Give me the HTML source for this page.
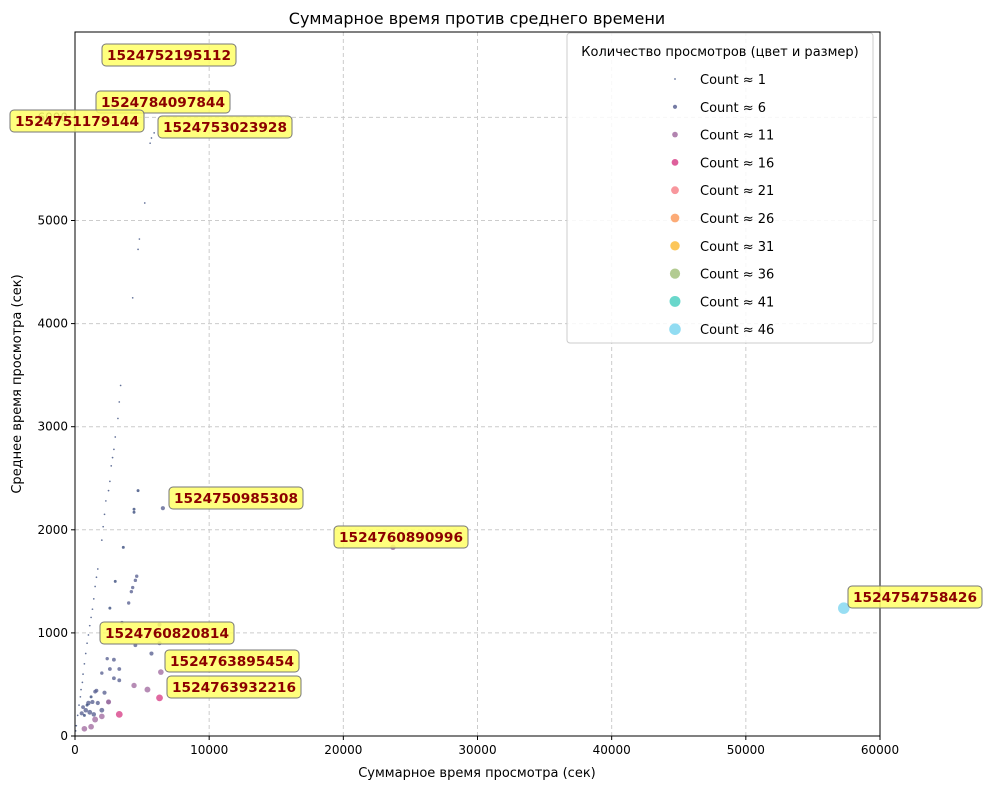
<!DOCTYPE html>
<html><head><meta charset="utf-8"><style>
body{margin:0;background:#fff;font-family:"DejaVu Sans","Liberation Sans",sans-serif;}
svg text{font-family:"DejaVu Sans","Liberation Sans",sans-serif;}
</style></head><body>
<svg id="chart" width="988" height="790" xmlns="http://www.w3.org/2000/svg">
<rect width="988" height="790" fill="#fff"/>
<text x="477" y="24" text-anchor="middle" font-size="16">Суммарное время против среднего времени</text>
<g id="grid"></g><g id="points"></g><g id="axes"></g><g id="annots"></g><g id="legend"></g>
<text x="477" y="777" text-anchor="middle" font-size="13">Суммарное время просмотра (сек)</text>
<text x="21" y="384" text-anchor="middle" font-size="13" transform="rotate(-90 21 384)">Среднее время просмотра (сек)</text>
</svg>
<script>
const totals=[6400,6100,5700,5900,5600,5200,4800,4700,4300,3400,3300,3200,3000,2900,2800,2700,2600,2500,2300,2200,2100,2000,1700,1600,1500,1400,1300,1200,1100,1000,900,800,700,600,550,450,400,300,200,100,50,
4700,4400,4400,3600,2600,3000,6550,4600,4500,4300,4200,4000,3500,4500,3200,6300,5700,6300,3300,2400,2900,2000,2600,3300,2900,1600,1500,2200,1300,1000,1700,2500,600,500,800,1100,1400,2000,1200,900,700,
6400,5400,4400,2000,1500,1200,700,2500,23700,6300,3300,57300];
const avgs=[6580,6100,5800,5850,5750,5170,4820,4720,4250,3400,3240,3080,2900,2780,2700,2620,2470,2380,2280,2150,2030,1900,1620,1540,1450,1330,1230,1150,1070,980,900,800,700,600,520,450,380,300,200,100,50,
2380,2200,2170,1830,1240,1500,2210,1550,1510,1440,1400,1290,1100,880,1010,1080,800,900,650,750,740,610,650,540,560,440,430,420,330,320,320,330,280,220,250,230,210,250,380,300,200,
620,450,490,190,160,90,70,330,1830,370,210,1240];
const counts=[1,1,1,1,1,1,1,1,1,1,1,1,1,1,1,1,1,1,1,1,1,1,1,1,1,1,1,1,1,1,1,1,1,1,1,1,1,1,1,1,1,
3,3,3,3,3,3,6,4,4,4,4,4,4,5,4,6,6,6,5,4,5,4,5,5,5,5,5,6,6,7,6,7,5,6,7,8,7,8,3,3,3,
11,12,10,11,12,11,11,9,10,16,16,46];
const xTicks=[0,10000,20000,30000,40000,50000,60000];
const yTicks=[0,1000,2000,3000,4000,5000,6000];
const legendCounts=[1,6,11,16,21,26,31,36,41,46];
const NS="http://www.w3.org/2000/svg";
const X0=75,X1=880,Y0=736,Y1=32;
const xs=v=>X0+v/60000*(X1-X0);
const ys=v=>Y0-v/1000*103.1;
const cols=[[1,"#3b4d7e"],[6,"#5d6494"],[11,"#a46fa2"],[16,"#d8438a"],[21,"#f7858c"],[26,"#fb9c5f"],[31,"#fbbc3c"],[36,"#a4c27e"],[41,"#4fd0c2"],[46,"#7ed6f0"]];
function col(c){let best=cols[0];for(const k of cols){if(Math.abs(k[0]-c)<Math.abs(best[0]-c))best=k;}return best[1];}
function rad(c){return Math.sqrt(c)*0.85;}
function mk(t,a,p){const e=document.createElementNS(NS,t);for(const k in a)e.setAttribute(k,a[k]);(p||document.getElementById('chart')).appendChild(e);return e;}
const grid=document.getElementById('grid'),axes=document.getElementById('axes'),pts=document.getElementById('points');
xTicks.forEach(t=>{const x=xs(t);
 if(t>0&&t<60000){const l=mk('line',{x1:x,x2:x,y1:Y1,y2:Y0,stroke:'#ccc','stroke-dasharray':'4,3'},grid);}
 mk('line',{x1:x,x2:x,y1:Y0,y2:Y0+4,stroke:'#000'},axes);
 const tx=mk('text',{x:x,y:Y0+18,'text-anchor':'middle','font-size':12},axes);tx.textContent=t;
 });
yTicks.forEach(t=>{const y=ys(t);
 if(t>0){const l=mk('line',{x1:X0,x2:X1,y1:y,y2:y,stroke:'#ccc','stroke-dasharray':'4,3'},grid);}
 mk('line',{x1:X0-4,x2:X0,y1:y,y2:y,stroke:'#000'},axes);
 const tx=mk('text',{x:X0-7,y:y+4,'text-anchor':'end','font-size':12},axes);tx.textContent=t;
 });
const frame=mk('rect',{x:X0,y:Y1,width:X1-X0,height:Y0-Y1,fill:'none',stroke:'#000'},axes);

totals.forEach((t,i)=>{const c=mk('circle',{cx:xs(t),cy:ys(avgs[i]),r:rad(counts[i]),fill:col(counts[i]),'fill-opacity':0.8},pts);
 });
const ann=[["1524752195112",102,44],["1524784097844",96,91],["1524751179144",10,110],["1524753023928",158,116],["1524750985308",169,487],["1524760890996",334,526],["1524754758426",848,586],["1524760820814",100,622],["1524763895454",165,650],["1524763932216",167,676]];
const ag=document.getElementById('annots');
ann.forEach(a=>{const g=mk('g',{},ag);
 mk('rect',{x:a[1],y:a[2],width:134,height:22,rx:4,fill:'#ffff66','fill-opacity':0.85,stroke:'#777'},g);
 const t=mk('text',{x:a[1]+67,y:a[2]+16,'text-anchor':'middle','font-size':13,'font-weight':'bold',fill:'#8b0000',textLength:124,lengthAdjust:'spacingAndGlyphs'},g);t.textContent=a[0];});
const lg=document.getElementById('legend');
const lb=mk('rect',{x:567,y:33,width:306,height:310,rx:3,fill:'#fff','fill-opacity':0.85,stroke:'#ccc'},lg);

const lt=mk('text',{x:720,y:56,'text-anchor':'middle','font-size':13},lg);lt.textContent='Количество просмотров (цвет и размер)';

legendCounts.forEach((c,i)=>{const y=79+i*27.8;const g=mk('g',{},lg);
 
 mk('circle',{cx:675,cy:y,r:rad(c),fill:col(c),'fill-opacity':0.85},g);
 const t=mk('text',{x:700,y:y+5,'font-size':13},g);t.textContent='Count ≈ '+c;});
</script>
</body></html>
